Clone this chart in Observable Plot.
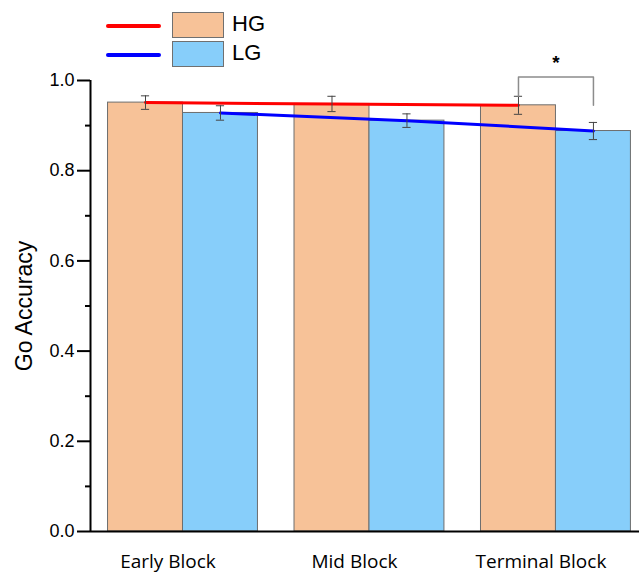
<!DOCTYPE html>
<html>
<head>
<meta charset="utf-8">
<script src="https://cdn.jsdelivr.net/npm/d3@7"></script>
<script src="https://cdn.jsdelivr.net/npm/@observablehq/plot@0.6"></script>
<style>
  html, body { margin: 0; padding: 0; background: #fff; }
  #wrap { position: relative; width: 639px; height: 575px; }
  .leg { position: absolute; font-family: "Liberation Sans", Arial, sans-serif; font-size: 22px; color: #000; }
  .legline { position: absolute; height: 4px; }
  .legbox { position: absolute; box-sizing: border-box; border: 1px solid #707070; }
</style>
</head>
<body>
<div id="wrap"></div>
<script>
// ---- data ----
const blocks = ["Early Block", "Mid Block", "Terminal Block"];
const groups = ["HG", "LG"];
const hgMean = [0.951, 0.948, 0.945];
const hgErr  = [0.015, 0.017, 0.020];
const lgMean = [0.928, 0.911, 0.888];
const lgErr  = [0.016, 0.015, 0.019];
const yMajorTicks = [0, 0.2, 0.4, 0.6, 0.8, 1.0];
const yMinorTicks = [0.1, 0.3, 0.5, 0.7, 0.9];
// significance bracket on the Terminal Block (HG vs LG)
const sigBlock = ["Terminal Block"];
const sigLevels = [1.008, 0.965, 0.945]; // top, left end, right end
const sigLabel = ["*"];

// ---- styling / layout ----
const fillColor = {HG: "#F7C298", LG: "#87CEFA"};
const lineColor = {HG: "#FF0000", LG: "#0000FF"};
const barW = 0.402;
const capW = 0.022;
const xDomain = [-0.496, 2.448];

const rows = blocks.flatMap((b, i) => [
  {block: b, i, group: "HG", mean: hgMean[i], err: hgErr[i], x1: i - barW, x2: i, c: i - barW / 2},
  {block: b, i, group: "LG", mean: lgMean[i], err: lgErr[i], x1: i, x2: i + barW, c: i + barW / 2}
]);
const hgRows = rows.filter(d => d.group === "HG");
const lgRows = rows.filter(d => d.group === "LG");

const si = blocks.indexOf(sigBlock[0]);
const sigHG = rows.find(d => d.i === si && d.group === "HG");
const sigLG = rows.find(d => d.i === si && d.group === "LG");
const bracket = [
  {x: sigHG.c, y: sigLevels[1]},
  {x: sigHG.c, y: sigLevels[0]},
  {x: sigLG.c, y: sigLevels[0]},
  {x: sigLG.c, y: sigLevels[2]}
];

const chart = Plot.plot({
  width: 639,
  height: 575,
  marginLeft: 90,
  marginRight: 0,
  marginTop: 80,
  marginBottom: 44,
  style: {fontFamily: "'Liberation Sans', Arial, sans-serif", background: "#fff"},
  x: {domain: xDomain, axis: null},
  y: {domain: [0, 1], axis: null},
  marks: [
    Plot.rectY(rows, {x1: "x1", x2: "x2", y1: 0, y2: "mean", fill: d => fillColor[d.group], stroke: "#6e6e6e", strokeWidth: 1}),
    Plot.line(hgRows, {x: "c", y: "mean", stroke: lineColor.HG, strokeWidth: 3}),
    Plot.line(lgRows, {x: "c", y: "mean", stroke: lineColor.LG, strokeWidth: 3}),
    Plot.ruleX(rows, {x: "c", y1: d => d.mean - d.err, y2: d => d.mean + d.err, stroke: "#444", strokeWidth: 1}),
    Plot.ruleY(rows, {y: d => d.mean + d.err, x1: d => d.c - capW, x2: d => d.c + capW, stroke: "#444", strokeWidth: 1}),
    Plot.ruleY(rows, {y: d => d.mean - d.err, x1: d => d.c - capW, x2: d => d.c + capW, stroke: "#444", strokeWidth: 1}),
    Plot.line(bracket, {x: "x", y: "y", stroke: "#8c8c8c", strokeWidth: 1.5}),
    Plot.text(sigLabel, {x: (sigHG.c + sigLG.c) / 2, y: 1.055, text: d => d, fontSize: 19, fontWeight: "bold", lineAnchor: "top", fill: "#000"}),
    // axes
    Plot.ruleY([0], {stroke: "#000", strokeWidth: 2}),
    Plot.ruleX([xDomain[0]], {y1: 0, y2: 1, stroke: "#000", strokeWidth: 2}),
    Plot.axisY(yMajorTicks, {tickSize: 13, tickPadding: 3, tickFormat: d3.format(".1f"), fontSize: 18, strokeWidth: 2, fill: "#000"}),
    Plot.axisY(yMinorTicks, {tickSize: 5, tickFormat: () => "", strokeWidth: 2}),
    Plot.axisX([0, 1, 2], {tickSize: 0, tickPadding: 23, tickFormat: i => blocks[i], fontSize: 19, fontFamily: "'Open Sans', 'Noto Sans', sans-serif", dx: -15, fill: "#000"}),
    Plot.text(["Go Accuracy"], {frameAnchor: "left", textAnchor: "middle", lineAnchor: "middle", rotate: -90, dx: -66, fontSize: 23, fill: "#000"})
  ]
});

const wrap = document.getElementById("wrap");
wrap.appendChild(chart);

// legend overlay
const legendItems = [
  {g: groups[0], lineTop: 24, boxTop: 12, textTop: 12},
  {g: groups[1], lineTop: 53, boxTop: 41, textTop: 41}
];
for (const it of legendItems) {
  const ln = document.createElement("div");
  ln.className = "legline";
  Object.assign(ln.style, {left: "106px", top: it.lineTop + "px", width: "55px", background: lineColor[it.g], borderRadius: "2px"});
  wrap.appendChild(ln);
  const bx = document.createElement("div");
  bx.className = "legbox";
  Object.assign(bx.style, {left: "172px", top: it.boxTop + "px", width: "52px", height: "26px", background: fillColor[it.g]});
  wrap.appendChild(bx);
  const tx = document.createElement("div");
  tx.className = "leg";
  tx.textContent = it.g;
  Object.assign(tx.style, {left: "232px", top: (it.textTop - 1) + "px", lineHeight: "26px"});
  wrap.appendChild(tx);
}
</script>
</body>
</html>
